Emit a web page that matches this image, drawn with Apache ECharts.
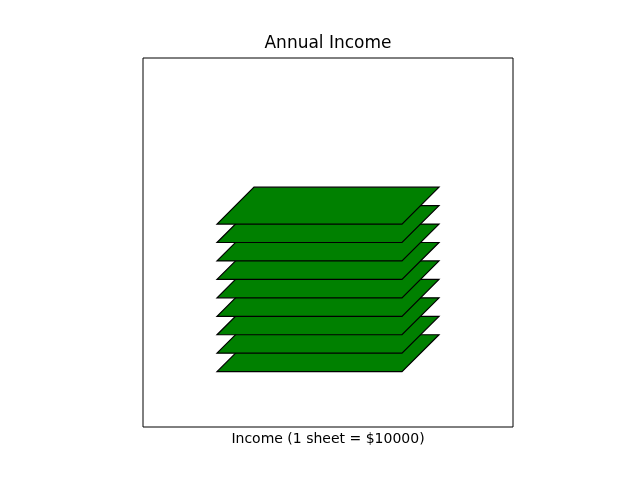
<!DOCTYPE html>
<html><head><meta charset="utf-8">
<script src="https://cdn.jsdelivr.net/npm/echarts@6/dist/echarts.min.js"></script>
<style>html,body{margin:0;padding:0;background:#fff}#c{width:640px;height:480px}</style>
</head><body><div id="c"></div>
<script>
// Each sheet = $10000; 9 sheets stacked
const sheetIndex = [1, 2, 3, 4, 5, 6, 7, 8, 9];
const sheetBase = [0.15, 0.20, 0.25, 0.30, 0.35, 0.40, 0.45, 0.50, 0.55];
const sheetLeft = [0.2, 0.2, 0.2, 0.2, 0.2, 0.2, 0.2, 0.2, 0.2];
const sheetWidth = 0.5;
const sheetSkewX = 0.1;
const sheetDepthY = 0.1;

const data = sheetIndex.map((s, i) => [sheetLeft[i], sheetBase[i]]);

const chart = echarts.init(document.getElementById('c'), null, {renderer: 'canvas'});
chart.setOption({
  animation: false,
  backgroundColor: '#fff',
  graphic: [{
    type: 'text', x: 328, y: 44,
    style: {text: 'Annual Income', fontFamily: 'DejaVu Sans', fontSize: 17, fill: '#000', align: 'center', verticalAlign: 'middle'}
  }],
  grid: {left: 143, top: 58, width: 370, height: 369, show: true, borderColor: '#000', borderWidth: 1, backgroundColor: 'transparent'},
  xAxis: {
    type: 'value', min: 0, max: 1,
    name: 'Income (1 sheet = $10000)', nameLocation: 'middle', nameGap: 12,
    nameTextStyle: {fontFamily: 'DejaVu Sans', fontSize: 14, color: '#000', verticalAlign: 'middle', padding: [0,0,0,0]},
    axisLine: {show: false}, axisTick: {show: false}, axisLabel: {show: false}, splitLine: {show: false}
  },
  yAxis: {
    type: 'value', min: 0, max: 1,
    axisLine: {show: false}, axisTick: {show: false}, axisLabel: {show: false}, splitLine: {show: false}
  },
  series: [{
    type: 'custom',
    data: data,
    renderItem: function (params, api) {
      const x = api.value(0), y = api.value(1);
      const pts = [
        api.coord([x, y]),
        api.coord([x + sheetWidth, y]),
        api.coord([x + sheetWidth + sheetSkewX, y + sheetDepthY]),
        api.coord([x + sheetSkewX, y + sheetDepthY])
      ];
      return {
        type: 'polygon',
        shape: {points: pts},
        style: {fill: '#008000', stroke: '#000', lineWidth: 1.2}
      };
    }
  }]
});
</script></body></html>
